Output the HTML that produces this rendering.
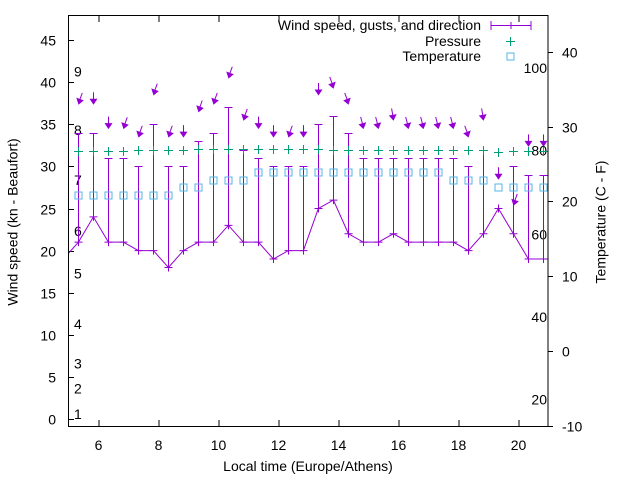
<!DOCTYPE html>
<html><head><meta charset="utf-8"><style>
body{margin:0;background:#fff}
svg{display:block;font-family:"Liberation Sans",sans-serif}
</style></head><body>
<svg id="chart" width="640" height="480">
<rect x="0" y="0" width="640" height="480" fill="#fff"/>
<g id="grid"></g>
<g id="marks"></g>
<rect x="68.5" y="15.5" width="479.5" height="411" fill="none" stroke="#000" stroke-width="1"/>
<text x="14" y="222" transform="rotate(-90 14 222)" font-size="14" text-anchor="middle" dominant-baseline="middle">Wind speed (kn - Beaufort)</text>
<text x="602" y="222" transform="rotate(-90 602 222)" font-size="14" text-anchor="middle" dominant-baseline="middle">Temperature (C - F)</text>
<text x="308" y="471" font-size="14" text-anchor="middle">Local time (Europe/Athens)</text>
<g>
<text x="481" y="30" font-size="14" text-anchor="end">Wind speed, gusts, and direction</text>
<line x1="491" y1="25.5" x2="531" y2="25.5" stroke="#9400d3"/>
<line x1="491" y1="21" x2="491" y2="30" stroke="#9400d3"/>
<line x1="531" y1="21" x2="531" y2="30" stroke="#9400d3"/>
<line x1="511" y1="22" x2="511" y2="29" stroke="#9400d3"/>
<text x="481" y="46" font-size="14" text-anchor="end">Pressure</text>
<path d="M506 41.5h9M510.5 37v9" stroke="#009e73"/>
<text x="481" y="61" font-size="14" text-anchor="end">Temperature</text>
<rect x="507" y="53" width="7" height="7" fill="none" stroke="#56b4e9"/>
</g>
</svg>
<script>
const times=[4.83,5.33,5.83,6.33,6.83,7.33,7.83,8.33,8.83,9.33,9.83,10.33,10.83,11.33,11.83,12.33,12.83,13.33,13.83,14.33,14.83,15.33,15.83,16.33,16.83,17.33,17.83,18.33,18.83,19.33,19.83,20.33,20.83];
const windSpeed=[19,21,24,21,21,20,20,18,20,21,21,23,21,21,19,20,20,25,26,22,21,21,22,21,21,21,21,20,22,25,22,19,19];
const gusts=[null,34,34,31,31,30,35,30,30,33,34,37,32,31,30,30,30,35,36,34,31,31,31,31,31,31,31,30,32,null,30,29,29];
const arrowLevel=[null,37.5,37.5,34.6,34.6,33.6,38.6,33.6,33.6,36.6,37.5,40.6,35.6,34.6,33.6,33.6,33.6,38.6,39.4,37.5,34.6,34.6,35.6,34.6,34.6,34.6,34.6,33.6,35.6,28.6,25.5,32.5,32.5];
const windDir=[null,20,0,0,20,20,20,20,0,20,20,20,20,0,0,20,0,0,340,340,345,345,350,345,345,345,345,340,350,0,20,0,0];
const pressure=[null,31.8,31.8,31.8,31.8,31.9,31.9,31.9,31.9,32.1,32.1,32.1,32.1,32.1,32.1,32.1,32.1,32.1,32.0,32.0,32.0,32.0,32.0,32.0,32.0,32.0,32.0,32.0,32.0,31.7,31.8,31.8,31.8];
const temperature=[null,20.9,20.9,20.9,20.9,20.9,20.9,20.9,21.9,21.9,22.9,22.9,22.9,23.9,23.9,23.9,23.9,23.9,23.9,23.9,23.9,23.9,23.9,23.9,23.9,23.9,22.9,22.9,22.9,21.9,21.9,21.9,21.9];
const xTicks=[6,8,10,12,14,16,18,20];
const yTicks=[0,5,10,15,20,25,30,35,40,45];
const y2Ticks=[-10,0,10,20,30,40];
const fLabels=["100","80","60","40","20"];
const fValues=[41.7,31.9,21.9,12.1,2.3];
const beaufort=["1","2","3","4","5","6","7","8","9"];
const beaufortValues=[0.6,3.6,6.6,11.3,17.3,22.3,28.4,34.3,41.3];

const X=t=>68.5+(t-5)*30;
const Y=v=>419-v*8.42;
const Y2=c=>351-c*7.48;
const NS='http://www.w3.org/2000/svg';
const grid=document.getElementById('grid'),marks=document.getElementById('marks');
function mk(tag,attrs,parent){const e=document.createElementNS(NS,tag);for(const k in attrs)e.setAttribute(k,attrs[k]);parent.appendChild(e);return e;}

xTicks.forEach(t=>{
 const x=X(t)+0.5;
 const tl=mk('path',{d:`M${x} 16v6M${x} 426v-6`,stroke:'#000'},grid);
 
 
 const lb=mk('text',{x:X(t),y:450,'font-size':14,'text-anchor':'middle'},grid);lb.textContent=t;
 
 
});
yTicks.forEach(v=>{
 const y=Math.round(Y(v))+0.5;
 const tl=mk('path',{d:`M68 ${y}h6`,stroke:'#000'},grid);
 
 
 const lb=mk('text',{x:56,y:y+5,'font-size':14,'text-anchor':'end'},grid);lb.textContent=v;
 
 
});
y2Ticks.forEach(c=>{
 const y=Math.round(Y2(c))+0.5;
 const tl=mk('path',{d:`M548 ${y}h5`,stroke:'#000'},grid);
 
 
 const lb=mk('text',{x:562,y:y+5,'font-size':14},grid);lb.textContent=c;
 
 
});
fLabels.forEach((f,i)=>{
 const lb=mk('text',{x:547,y:Y(fValues[i])+5,'font-size':14,'text-anchor':'end'},grid);lb.textContent=f;
 
 
});
beaufort.forEach((b,i)=>{
 const lb=mk('text',{x:74,y:Y(beaufortValues[i])+5,'font-size':14},grid);lb.textContent=b;
 
 
});

const clip=mk('clipPath',{id:'pc'},mk('defs',{},marks));
mk('rect',{x:69,y:16,width:479,height:410},clip);
const g=mk('g',{'clip-path':'url(#pc)'},marks);

let d='';
times.forEach((t,i)=>{d+=(i?'L':'M')+X(t)+' '+Y(windSpeed[i]);});
const line=mk('path',{d,fill:'none',stroke:'#9400d3','stroke-width':1},g);



times.forEach((t,i)=>{
 const x=Math.round(X(t))+0.5,yw=Y(windSpeed[i]);
 const pt=mk('path',{d:`M${x-4} ${yw}h8M${x} ${yw-4}v8`,stroke:'#9400d3'},g);
 
 
 if(gusts[i]!=null){
  const yg=Math.round(Y(gusts[i]))+0.5;
  const eb=mk('path',{d:`M${x} ${yw}V${yg}M${x-4} ${yg}h8`,stroke:'#9400d3',fill:'none'},g);
  
  
 }
 if(arrowLevel[i]!=null){
  const ya=Y(arrowLevel[i]);
  const a=windDir[i]*Math.PI/180;
  const L=11;
  const tx=x+Math.sin(a)*L, ty=ya-Math.cos(a)*L;
  const ag=mk('g',{},g);
  
  
  mk('line',{x1:tx,y1:ty,x2:x,y2:ya,stroke:'#9400d3','stroke-width':1},ag);
  const hx=Math.sin(a),hy=-Math.cos(a);
  const px=-hy,py=hx;
  const bx=x+hx*4.5,by=ya+hy*4.5;
  mk('path',{d:`M${x} ${ya+1.5}L${bx+px*4} ${by+py*4}L${bx-px*4} ${by-py*4}Z`,fill:'#9400d3'},ag);
 }
 if(pressure[i]!=null){
  const yp=Math.round(Y(pressure[i]))+0.5;
  const p=mk('path',{d:`M${x-4.5} ${yp}h9M${x} ${yp-4.5}v9`,stroke:'#009e73'},g);
  
  
 }
 if(temperature[i]!=null){
  const yt=Math.round(Y2(temperature[i]))+0.5;
  const s=mk('rect',{x:x-3.5,y:yt-3.5,width:7,height:7,fill:'none',stroke:'#56b4e9'},g);
  
  
 }
});
</script>
</body></html>
